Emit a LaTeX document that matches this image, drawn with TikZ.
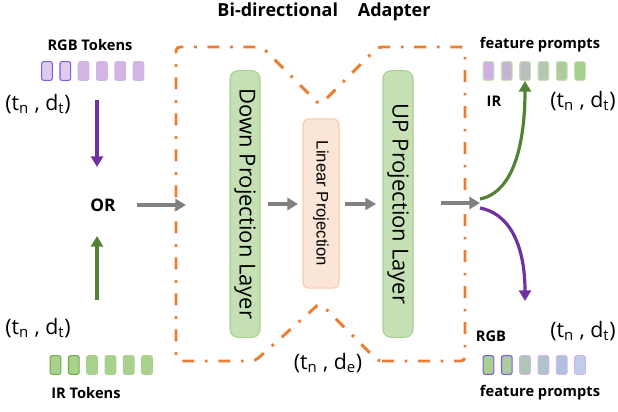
\documentclass[tikz,border=0pt]{standalone}
\usepackage{fontspec}
\setmainfont{Open Sans}
\newfontfamily\arialf{Liberation Sans}
\usetikzlibrary{arrows.meta}
\definecolor{orng}{HTML}{ED7D31}
\definecolor{purp}{HTML}{7030A0}
\definecolor{grn}{HTML}{548235}
\definecolor{gry}{HTML}{808080}
\definecolor{lgreen}{HTML}{C5E0B4}
\definecolor{lgreenb}{HTML}{A9D18E}
\definecolor{peach}{HTML}{FBE5D6}
\definecolor{peachb}{HTML}{F8CBAD}
\definecolor{tokp}{HTML}{D3B5E5}
\definecolor{tokpb}{HTML}{7B5CE6}
\definecolor{tokg}{HTML}{A9D18E}
\definecolor{tokgb}{HTML}{70AD47}
\begin{document}
\begin{tikzpicture}[x=0.75pt,y=-0.75pt,
  tok/.style={rounded corners=1.5pt,minimum width=8pt,minimum height=14pt,inner sep=0pt,line width=0.8pt},
  lbl/.style={font=\bfseries\fontsize{11}{13}\selectfont,inner sep=0pt},
  tup/.style={font=\fontsize{16}{18}\selectfont,inner sep=0pt},
  layer/.style={rounded corners=6pt,minimum width=22.5pt,minimum height=200pt,inner sep=0pt,line width=0.8pt},
  garrow/.style={gry,line width=2.4pt,-{Triangle[length=8pt,width=9pt]}},
  carrow/.style={line width=2.4pt,-{Triangle[length=8pt,width=9pt]}},
  bound/.style={orng,line width=2.2pt,dash pattern=on 9pt off 8pt on 2pt off 8pt,rounded corners=3pt}
]
\useasboundingbox (0,0) rectangle (618,411);
% title
\node[font=\bfseries\fontsize{13.5}{15}\selectfont,inner sep=0pt] (title) at (324,12) {Bi-directional\hspace{1.1em}Adapter};
% boundary
\draw[bound] (378,361) -- (465,361) -- (465,47) -- (378,47) -- (320,105) -- (262,47) -- (176,47) -- (176,361) -- (255,361) -- (320,303) -- cycle;
% RGB tokens
\node[lbl] (rgbt) at (90,45) {RGB Tokens};
\foreach \i in {0,...,5}{
  \pgfmathsetmacro\xx{47+18.3*\i}
  \ifnum\i<2
    \node[tok,fill=tokp!70,draw=tokpb] (r\i) at (\xx,71) {};
  \else
    \node[tok,fill=tokp,draw=tokp] (r\i) at (\xx,71) {};
  \fi
}
\node[tup] (tup1) at (38,104) {(t$_\mathrm{n}$ , d$_\mathrm{t}$)};
\coordinate (pa) at (97,100);
\coordinate (pb) at (97,167);
\draw[carrow,purp] (pa) -- (pb);
\node[font=\bfseries\fontsize{13}{15}\selectfont,inner sep=0pt] (or) at (103,205) {OR};
\coordinate (ga) at (97,300);
\coordinate (gb) at (97,236);
\draw[carrow,grn] (ga) -- (gb);
\node[tup] (tup2) at (38,328) {(t$_\mathrm{n}$ , d$_\mathrm{t}$)};
\foreach \i in {0,...,5}{
  \pgfmathsetmacro\xx{55.5+18.3*\i}
  \ifnum\i<2
    \node[tok,fill=tokg,draw=tokgb] (g\i) at (\xx,365) {};
  \else
    \node[tok,fill=tokg,draw=tokg] (g\i) at (\xx,365) {};
  \fi
}
\node[lbl] (irt) at (86,393) {IR Tokens};
% layers
\node[layer,fill=lgreen,draw=lgreenb] (down) at (245,204) {};
\node[rotate=-90,font=\fontsize{16.5}{18}\selectfont,inner sep=0pt] at (down.center) {Down Projection Layer};
\node[rounded corners=4pt,minimum width=27pt,minimum height=127pt,inner sep=0pt,fill=peach,draw=peachb,line width=0.8pt] (lin) at (321,203.5) {};
\node[rotate=-90,font=\arialf\fontsize{12.5}{14}\selectfont,inner sep=0pt] at (lin.center) {Linear Projection};
\node[layer,fill=lgreen,draw=lgreenb] (up) at (398,204) {};
\node[rotate=-90,font=\fontsize{16.5}{18}\selectfont,inner sep=0pt] at (up.center) {UP Projection Layer};
% gray arrows
\coordinate (in0) at (137,205);
\coordinate (in1) at (186,205);
\draw[garrow] (in0) -- (in1);
\coordinate (a1) at (268,204);
\coordinate (a2) at (298,204);
\draw[garrow] (a1) -- (a2);
\coordinate (b1) at (345,204);
\coordinate (b2) at (376,204);
\draw[garrow] (b1) -- (b2);
\coordinate (c1) at (441,203);
\coordinate (c2) at (480,203);
\draw[garrow] (c1) -- (c2);
% curves
\coordinate (gs) at (480,199);
\coordinate (ge) at (525,81);
\coordinate (ps) at (480,208);
\coordinate (pe) at (525,301);
\draw[carrow,grn] (gs) .. controls (515,192) and (525,140) .. (ge);
\draw[carrow,purp] (ps) .. controls (515,215) and (525,255) .. (pe);
% feature prompts top
\node[lbl] (fp1) at (540,45) {feature prompts};
\definecolor{f1}{HTML}{D0B0E4}
\definecolor{f2}{HTML}{C6B4D2}
\definecolor{f3}{HTML}{BCBCBC}
\definecolor{f4}{HTML}{B6C6B0}
\definecolor{f5}{HTML}{ADCC9C}
\definecolor{f6}{HTML}{A6D08C}
\foreach \i/\c in {0/f1,1/f2,2/f3,3/f4,4/f5,5/f6}{
  \pgfmathsetmacro\xx{488.5+18.3*\i}
  \node[tok,fill=\c,draw=lgreen] (t\i) at (\xx,71) {};
}
\node[lbl] (irl) at (494,101) {IR};
\node[tup] (tup3) at (583,101) {(t$_\mathrm{n}$ , d$_\mathrm{t}$)};
% feature prompts bottom
\definecolor{h1}{HTML}{A9D18E}
\definecolor{h2}{HTML}{ACCCA0}
\definecolor{h3}{HTML}{ADC6B6}
\definecolor{h4}{HTML}{AEC4CA}
\definecolor{h5}{HTML}{B0C0DE}
\definecolor{h6}{HTML}{C0CCEC}
\foreach \i/\c in {0/h1,1/h2,2/h3,3/h4,4/h5,5/h6}{
  \pgfmathsetmacro\xx{488.5+18.3*\i}
  \ifnum\i<2
    \node[tok,fill=\c,draw=tokpb] (b\i) at (\xx,365) {};
  \else
    \node[tok,fill=\c,draw=tokp] (b\i) at (\xx,365) {};
  \fi
}
\node[lbl] (rgbl) at (491,336) {RGB};
\node[tup] (tup4) at (583,331) {(t$_\mathrm{n}$ , d$_\mathrm{t}$)};
\node[lbl] (fp2) at (540,393) {feature prompts};
\node[tup] (tup5) at (328,363) {(t$_\mathrm{n}$ , d$_\mathrm{e}$)};
\end{tikzpicture}
\end{document}
